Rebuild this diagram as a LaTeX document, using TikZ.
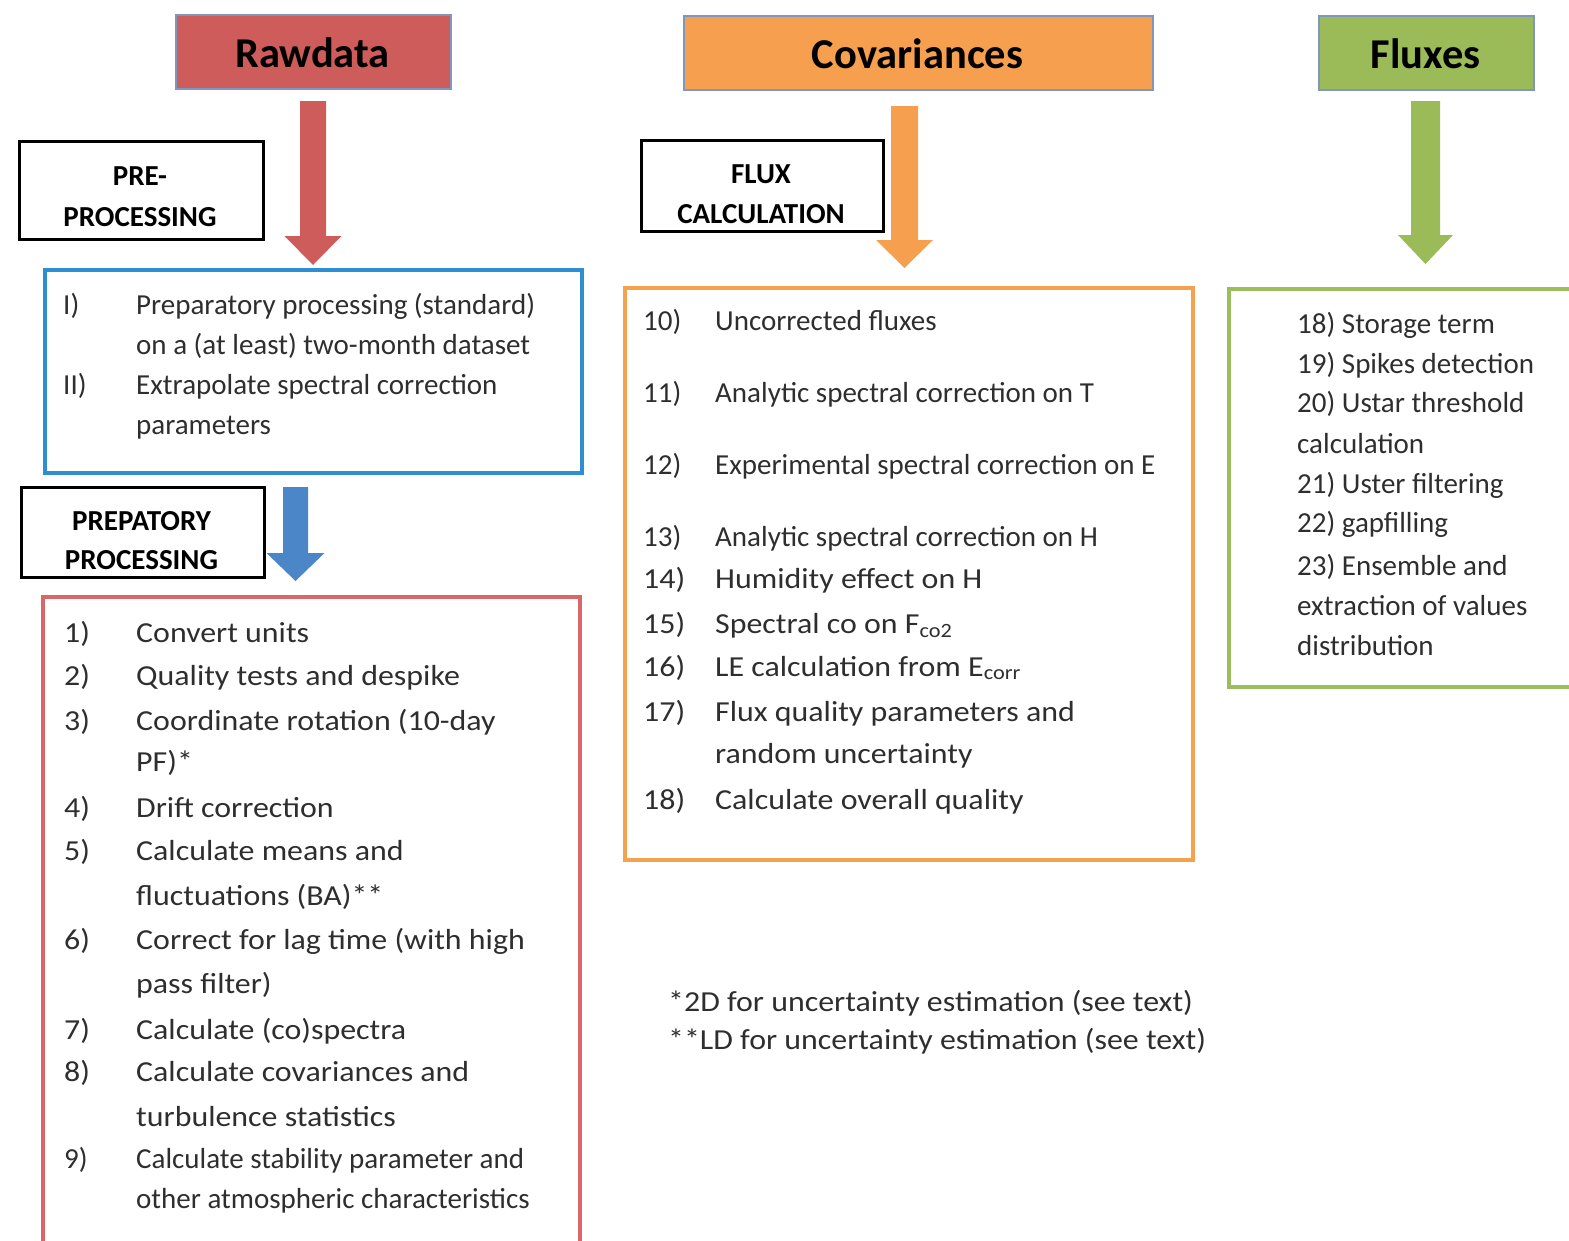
\documentclass[tikz,border=0pt]{standalone}
\usepackage{fontspec}
\setmainfont{Carlito}
\newfontfamily\widefont[FakeStretch=1.1]{Carlito}
\definecolor{rawred}{HTML}{CD5C5A}
\definecolor{covor}{HTML}{F6A04F}
\definecolor{flgreen}{HTML}{9BBB59}
\definecolor{titleedge}{HTML}{7F97BD}
\definecolor{blueedge}{HTML}{2E8ED3}
\definecolor{rededge}{HTML}{D96668}
\definecolor{oredge}{HTML}{F5A24F}
\definecolor{gredge}{HTML}{9CBD5B}
\definecolor{blarrow}{HTML}{4A86C8}
\definecolor{txt}{HTML}{2E2E2E}
\newcommand{\blockarrow}[7]{% center x, top, head base, tip, shaft half, head half, colour
  \fill[#7] (#1-#5,#2) -- (#1+#5,#2) -- (#1+#5,#3) -- (#1+#6,#3) -- (#1,#4) -- (#1-#6,#3) -- (#1-#5,#3) -- cycle;}
\begin{document}
\begin{tikzpicture}[x=1pt,y=-1pt,
  titlebox/.style={draw=titleedge, line width=2pt, inner sep=0pt, anchor=north west},
  titletext/.style={anchor=base, inner sep=0pt, text=black, font=\fontsize{42.5}{50}\selectfont\bfseries},
  labelbox/.style={draw=black, line width=2.5pt, inner sep=0pt, anchor=north west, fill=white},
  labeltext/.style={anchor=base, inner sep=0pt, text=black, font=\fontsize{29}{35}\selectfont\bfseries},
  item/.style={anchor=base west, inner sep=0pt, text=txt, font=\fontsize{29}{35}\selectfont},
  witem/.style={item, font=\fontsize{29}{35}\widefont},
  listbox/.style={line width=4pt}
]
\useasboundingbox (0,0) rectangle (1569,1240);

% ---------- title boxes ----------
\node[titlebox, fill=rawred, minimum width=275pt, minimum height=74pt] (raw) at (175,14) {};
\node[titletext] (rawt) at (312.5,67) {Rawdata};
\node[titlebox, fill=covor, minimum width=469pt, minimum height=74pt] (cov) at (683,15) {};
\node[titletext] (covt) at (917.5,68) {Covariances};
\node[titlebox, fill=flgreen, minimum width=215pt, minimum height=74pt] (flx) at (1318,15) {};
\node[titletext] (flxt) at (1425.5,68) {Fluxes};

% ---------- list boxes ----------
\node[draw=blueedge, listbox, minimum width=537pt, minimum height=203pt, anchor=north west, inner sep=0pt] (pre) at (43,268) {};
\draw[draw=rededge, line width=3.5pt] (43,1245) coordinate (rbl) -- (43,597) -- (580,597) -- (580,1245) coordinate (rbr);
\coordinate (prep) at (311.5,597);
\node[draw=oredge, listbox, minimum width=568pt, minimum height=572pt, anchor=north west, inner sep=0pt] (fluxcalc) at (623,286) {};
\draw[draw=gredge, line width=4pt] (1575,289) -- (1229,289) -- (1229,687) -- (1575,687);
\coordinate (fluxlist) at (1426,289);

% ---------- block arrows ----------
\blockarrow{313}{101}{236}{265}{13}{28.5}{rawred}
\blockarrow{904.5}{106}{240}{268}{13.5}{28.5}{covor}
\blockarrow{1425.5}{101}{235}{264}{14.5}{27.5}{flgreen}
\blockarrow{295.5}{487}{553}{581}{12.5}{29}{blarrow}

% ---------- label boxes ----------
\node[labelbox, minimum width=244pt, minimum height=98pt] (lpre) at (18,140) {};
\node[labeltext] (lpre1) at (140,185) {PRE-};
\node[labeltext] (lpre2) at (140,226) {PROCESSING};
\node[labelbox, minimum width=242pt, minimum height=91pt] (lflux) at (640,139) {};
\node[labeltext] (lflux1) at (761,183) {FLUX};
\node[labeltext] (lflux2) at (761,223) {CALCULATION};
\node[labelbox, minimum width=243pt, minimum height=90pt] (lprep) at (20,486) {};
\node[labeltext] (lprep1) at (141.5,530) {PREPATORY};
\node[labeltext] (lprep2) at (141.5,569) {PROCESSING};

% ---------- pre-processing list ----------
\node[item] (pn1) at (63,314) {I)};
\node[item] (pt1) at (136,314) {Preparatory processing (standard)};
\node[item] (pt1b) at (136,354) {on a (at least) two-month dataset};
\node[item] (pn2) at (63,394) {II)};
\node[item] (pt2) at (136,394) {Extrapolate spectral correction};
\node[item] (pt2b) at (136,434) {parameters};

% ---------- preparatory processing list ----------
\node[witem] (rn1) at (64,642) {1)};
\node[witem] (rt1) at (136,642) {Convert units};
\node[witem] (rn2) at (64,685) {2)};
\node[witem] (rt2) at (136,685) {Quality tests and despike};
\node[witem] (rn3) at (64,730) {3)};
\node[witem] (rt3) at (136,730) {Coordinate rotation (10-day};
\node[witem] (rt3b) at (136,771) {PF)*};
\node[witem] (rn4) at (64,817) {4)};
\node[witem] (rt4) at (136,817) {Drift correction};
\node[witem] (rn5) at (64,860) {5)};
\node[witem] (rt5) at (136,860) {Calculate means and};
\node[witem] (rt5b) at (136,905) {fluctuations (BA)**};
\node[witem] (rn6) at (64,949) {6)};
\node[witem] (rt6) at (136,949) {Correct for lag time (with high};
\node[witem] (rt6b) at (136,993) {pass filter)};
\node[witem] (rn7) at (64,1039) {7)};
\node[witem] (rt7) at (136,1039) {Calculate (co)spectra};
\node[witem] (rn8) at (64,1081) {8)};
\node[witem] (rt8) at (136,1081) {Calculate covariances and};
\node[witem] (rt8b) at (136,1126) {turbulence statistics};
\node[item] (rn9) at (64,1168) {9)};
\node[item] (rt9) at (136,1168) {Calculate stability parameter and};
\node[item] (rt9b) at (136,1208) {other atmospheric characteristics};

% ---------- flux calculation list ----------
\node[item] (on10) at (643,330) {10)};
\node[item] (ot10) at (715,330) {Uncorrected fluxes};
\node[item] (on11) at (643,402) {11)};
\node[item] (ot11) at (715,402) {Analytic spectral correction on T};
\node[item] (on12) at (643,474) {12)};
\node[item] (ot12) at (715,474) {Experimental spectral correction on E};
\node[item] (on13) at (643,546) {13)};
\node[item] (ot13) at (715,546) {Analytic spectral correction on H};
\node[witem] (on14) at (643,588) {14)};
\node[witem] (ot14) at (715,588) {Humidity effect on H};
\node[witem] (on15) at (643,633) {15)};
\node[witem] (ot15) at (715,633) {Spectral co on F\textsubscript{co2}};
\node[witem] (on16) at (643,676) {16)};
\node[witem] (ot16) at (715,676) {LE calculation from E\textsubscript{corr}};
\node[witem] (on17) at (643,721) {17)};
\node[witem] (ot17) at (715,721) {Flux quality parameters and};
\node[witem] (ot17b) at (715,763) {random uncertainty};
\node[witem] (on18) at (643,809) {18)};
\node[witem] (ot18) at (715,809) {Calculate overall quality};

% ---------- fluxes list ----------
\node[item] (g18) at (1297,333) {18) Storage term};
\node[item] (g19) at (1297,373) {19) Spikes detection};
\node[item] (g20) at (1297,412) {20) Ustar threshold};
\node[item] (g20b) at (1297,453) {calculation};
\node[item] (g21) at (1297,493) {21) Uster filtering};
\node[item] (g22) at (1297,532) {22) gapfilling};
\node[item] (g23) at (1297,575) {23) Ensemble and};
\node[item] (g23b) at (1297,615) {extraction of values};
\node[item] (g23c) at (1297,655) {distribution};

% ---------- footnotes ----------
\node[witem] (fn1) at (668,1011) {*2D for uncertainty estimation (see text)};
\node[witem] (fn2) at (668,1049) {**LD for uncertainty estimation (see text)};
\end{tikzpicture}
\end{document}
